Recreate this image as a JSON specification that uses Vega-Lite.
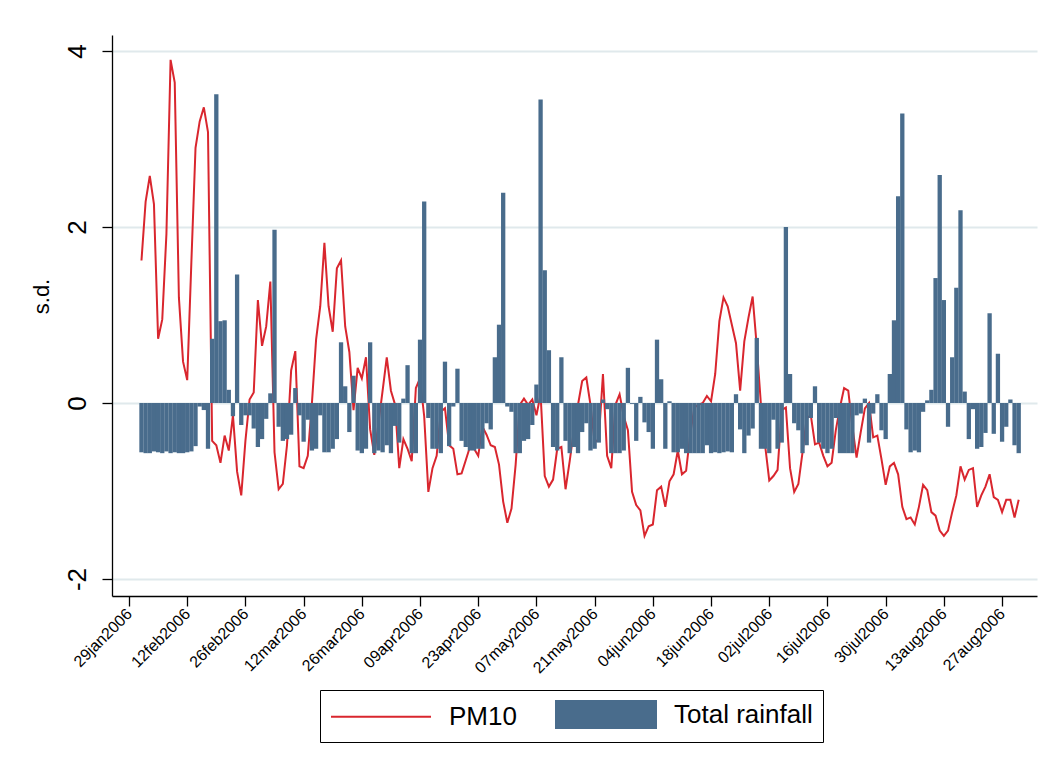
{
  "$schema": "https://vega.github.io/schema/vega-lite/v6.json",
  "width": 925,
  "height": 561,
  "autosize": {"type": "none"},
  "padding": {"left": 112, "top": 35, "right": 16, "bottom": 175},
  "background": "white",
  "config": {
    "view": {"stroke": null},
    "font": "Liberation Sans"
  },
  "data": {
    "values": [
      {"date": "2006-02-01", "pm10": 1.62, "rain": -0.56},
      {"date": "2006-02-02", "pm10": 2.29, "rain": -0.57},
      {"date": "2006-02-03", "pm10": 2.58, "rain": -0.57},
      {"date": "2006-02-04", "pm10": 2.26, "rain": -0.55},
      {"date": "2006-02-05", "pm10": 0.73, "rain": -0.56},
      {"date": "2006-02-06", "pm10": 0.95, "rain": -0.57},
      {"date": "2006-02-07", "pm10": 1.92, "rain": -0.55},
      {"date": "2006-02-08", "pm10": 3.90, "rain": -0.57},
      {"date": "2006-02-09", "pm10": 3.64, "rain": -0.56},
      {"date": "2006-02-10", "pm10": 1.20, "rain": -0.57},
      {"date": "2006-02-11", "pm10": 0.47, "rain": -0.57},
      {"date": "2006-02-12", "pm10": 0.26, "rain": -0.56},
      {"date": "2006-02-13", "pm10": 1.60, "rain": -0.55},
      {"date": "2006-02-14", "pm10": 2.90, "rain": -0.49},
      {"date": "2006-02-15", "pm10": 3.20, "rain": -0.04},
      {"date": "2006-02-16", "pm10": 3.36, "rain": -0.08},
      {"date": "2006-02-17", "pm10": 3.08, "rain": -0.52},
      {"date": "2006-02-18", "pm10": -0.43, "rain": 0.73},
      {"date": "2006-02-19", "pm10": -0.48, "rain": 3.51},
      {"date": "2006-02-20", "pm10": -0.68, "rain": 0.93},
      {"date": "2006-02-21", "pm10": -0.37, "rain": 0.94},
      {"date": "2006-02-22", "pm10": -0.54, "rain": 0.15},
      {"date": "2006-02-23", "pm10": -0.14, "rain": -0.15},
      {"date": "2006-02-24", "pm10": -0.78, "rain": 1.46},
      {"date": "2006-02-25", "pm10": -1.05, "rain": -0.25},
      {"date": "2006-02-26", "pm10": -0.43, "rain": -0.14},
      {"date": "2006-02-27", "pm10": 0.04, "rain": -0.14},
      {"date": "2006-02-28", "pm10": 0.12, "rain": -0.29},
      {"date": "2006-03-01", "pm10": 1.17, "rain": -0.50},
      {"date": "2006-03-02", "pm10": 0.65, "rain": -0.41},
      {"date": "2006-03-03", "pm10": 0.87, "rain": -0.18},
      {"date": "2006-03-04", "pm10": 1.38, "rain": 0.11},
      {"date": "2006-03-05", "pm10": -0.56, "rain": 1.97},
      {"date": "2006-03-06", "pm10": -0.98, "rain": -0.27},
      {"date": "2006-03-07", "pm10": -0.92, "rain": -0.43},
      {"date": "2006-03-08", "pm10": -0.48, "rain": -0.41},
      {"date": "2006-03-09", "pm10": 0.37, "rain": -0.36},
      {"date": "2006-03-10", "pm10": 0.59, "rain": 0.17},
      {"date": "2006-03-11", "pm10": -0.72, "rain": -0.14},
      {"date": "2006-03-12", "pm10": -0.74, "rain": -0.44},
      {"date": "2006-03-13", "pm10": -0.60, "rain": -0.19},
      {"date": "2006-03-14", "pm10": 0.00, "rain": -0.54},
      {"date": "2006-03-15", "pm10": 0.72, "rain": -0.52},
      {"date": "2006-03-16", "pm10": 1.10, "rain": -0.14},
      {"date": "2006-03-17", "pm10": 1.82, "rain": -0.56},
      {"date": "2006-03-18", "pm10": 1.10, "rain": -0.56},
      {"date": "2006-03-19", "pm10": 0.81, "rain": -0.52},
      {"date": "2006-03-20", "pm10": 1.53, "rain": -0.41},
      {"date": "2006-03-21", "pm10": 1.62, "rain": 0.69},
      {"date": "2006-03-22", "pm10": 0.87, "rain": 0.19},
      {"date": "2006-03-23", "pm10": 0.58, "rain": -0.33},
      {"date": "2006-03-24", "pm10": -0.08, "rain": 0.31},
      {"date": "2006-03-25", "pm10": 0.40, "rain": -0.54},
      {"date": "2006-03-26", "pm10": 0.28, "rain": -0.57},
      {"date": "2006-03-27", "pm10": 0.52, "rain": -0.52},
      {"date": "2006-03-28", "pm10": -0.30, "rain": 0.69},
      {"date": "2006-03-29", "pm10": -0.59, "rain": -0.57},
      {"date": "2006-03-30", "pm10": -0.23, "rain": -0.54},
      {"date": "2006-03-31", "pm10": 0.14, "rain": -0.56},
      {"date": "2006-04-01", "pm10": 0.52, "rain": -0.48},
      {"date": "2006-04-02", "pm10": 0.14, "rain": -0.57},
      {"date": "2006-04-03", "pm10": -0.02, "rain": -0.26},
      {"date": "2006-04-04", "pm10": -0.74, "rain": -0.45},
      {"date": "2006-04-05", "pm10": -0.41, "rain": 0.05},
      {"date": "2006-04-06", "pm10": -0.52, "rain": 0.43},
      {"date": "2006-04-07", "pm10": -0.66, "rain": -0.57},
      {"date": "2006-04-08", "pm10": 0.17, "rain": -0.57},
      {"date": "2006-04-09", "pm10": 0.28, "rain": 0.72},
      {"date": "2006-04-10", "pm10": -0.15, "rain": 2.29},
      {"date": "2006-04-11", "pm10": -1.01, "rain": -0.17},
      {"date": "2006-04-12", "pm10": -0.74, "rain": -0.52},
      {"date": "2006-04-13", "pm10": -0.60, "rain": -0.52},
      {"date": "2006-04-14", "pm10": -0.10, "rain": -0.57},
      {"date": "2006-04-15", "pm10": -0.06, "rain": 0.47},
      {"date": "2006-04-16", "pm10": -0.48, "rain": -0.49},
      {"date": "2006-04-17", "pm10": -0.52, "rain": -0.04},
      {"date": "2006-04-18", "pm10": -0.81, "rain": 0.39},
      {"date": "2006-04-19", "pm10": -0.80, "rain": -0.43},
      {"date": "2006-04-20", "pm10": -0.65, "rain": -0.50},
      {"date": "2006-04-21", "pm10": -0.50, "rain": -0.54},
      {"date": "2006-04-22", "pm10": -0.52, "rain": -0.54},
      {"date": "2006-04-23", "pm10": -0.60, "rain": -0.52},
      {"date": "2006-04-24", "pm10": -0.27, "rain": -0.52},
      {"date": "2006-04-25", "pm10": -0.36, "rain": -0.23},
      {"date": "2006-04-26", "pm10": -0.48, "rain": -0.30},
      {"date": "2006-04-27", "pm10": -0.50, "rain": 0.52},
      {"date": "2006-04-28", "pm10": -0.70, "rain": 0.89},
      {"date": "2006-04-29", "pm10": -1.12, "rain": 2.39},
      {"date": "2006-04-30", "pm10": -1.36, "rain": -0.04},
      {"date": "2006-05-01", "pm10": -1.20, "rain": -0.10},
      {"date": "2006-05-02", "pm10": -0.70, "rain": -0.57},
      {"date": "2006-05-03", "pm10": -0.02, "rain": -0.57},
      {"date": "2006-05-04", "pm10": 0.05, "rain": -0.43},
      {"date": "2006-05-05", "pm10": -0.02, "rain": -0.41},
      {"date": "2006-05-06", "pm10": 0.04, "rain": -0.25},
      {"date": "2006-05-07", "pm10": -0.14, "rain": 0.21},
      {"date": "2006-05-08", "pm10": 0.10, "rain": 3.45},
      {"date": "2006-05-09", "pm10": -0.83, "rain": 1.51},
      {"date": "2006-05-10", "pm10": -0.95, "rain": 0.60},
      {"date": "2006-05-11", "pm10": -0.87, "rain": -0.50},
      {"date": "2006-05-12", "pm10": -0.52, "rain": -0.54},
      {"date": "2006-05-13", "pm10": -0.50, "rain": 0.52},
      {"date": "2006-05-14", "pm10": -0.98, "rain": -0.43},
      {"date": "2006-05-15", "pm10": -0.66, "rain": -0.57},
      {"date": "2006-05-16", "pm10": -0.31, "rain": -0.50},
      {"date": "2006-05-17", "pm10": -0.02, "rain": -0.57},
      {"date": "2006-05-18", "pm10": 0.25, "rain": -0.33},
      {"date": "2006-05-19", "pm10": 0.29, "rain": -0.23},
      {"date": "2006-05-20", "pm10": -0.02, "rain": -0.54},
      {"date": "2006-05-21", "pm10": -0.45, "rain": -0.52},
      {"date": "2006-05-22", "pm10": -0.41, "rain": -0.45},
      {"date": "2006-05-23", "pm10": 0.33, "rain": 0.04},
      {"date": "2006-05-24", "pm10": -0.60, "rain": -0.07},
      {"date": "2006-05-25", "pm10": -0.74, "rain": -0.57},
      {"date": "2006-05-26", "pm10": -0.02, "rain": -0.57},
      {"date": "2006-05-27", "pm10": 0.10, "rain": -0.57},
      {"date": "2006-05-28", "pm10": -0.15, "rain": -0.54},
      {"date": "2006-05-29", "pm10": -0.31, "rain": 0.40},
      {"date": "2006-05-30", "pm10": -1.01, "rain": -0.01},
      {"date": "2006-05-31", "pm10": -1.16, "rain": -0.43},
      {"date": "2006-06-01", "pm10": -1.22, "rain": 0.07},
      {"date": "2006-06-02", "pm10": -1.51, "rain": -0.22},
      {"date": "2006-06-03", "pm10": -1.40, "rain": -0.33},
      {"date": "2006-06-04", "pm10": -1.38, "rain": -0.52},
      {"date": "2006-06-05", "pm10": -0.99, "rain": 0.72},
      {"date": "2006-06-06", "pm10": -0.95, "rain": 0.27},
      {"date": "2006-06-07", "pm10": -1.18, "rain": -0.52},
      {"date": "2006-06-08", "pm10": -0.89, "rain": 0.02},
      {"date": "2006-06-09", "pm10": -0.81, "rain": -0.56},
      {"date": "2006-06-10", "pm10": -0.54, "rain": -0.56},
      {"date": "2006-06-11", "pm10": -0.81, "rain": -0.52},
      {"date": "2006-06-12", "pm10": -0.77, "rain": -0.57},
      {"date": "2006-06-13", "pm10": -0.35, "rain": -0.57},
      {"date": "2006-06-14", "pm10": -0.05, "rain": -0.57},
      {"date": "2006-06-15", "pm10": -0.02, "rain": -0.57},
      {"date": "2006-06-16", "pm10": 0.00, "rain": -0.57},
      {"date": "2006-06-17", "pm10": 0.08, "rain": -0.48},
      {"date": "2006-06-18", "pm10": 0.02, "rain": -0.57},
      {"date": "2006-06-19", "pm10": 0.33, "rain": -0.56},
      {"date": "2006-06-20", "pm10": 0.93, "rain": -0.57},
      {"date": "2006-06-21", "pm10": 1.20, "rain": -0.56},
      {"date": "2006-06-22", "pm10": 1.10, "rain": -0.55},
      {"date": "2006-06-23", "pm10": 0.89, "rain": -0.56},
      {"date": "2006-06-24", "pm10": 0.68, "rain": 0.10},
      {"date": "2006-06-25", "pm10": 0.14, "rain": -0.30},
      {"date": "2006-06-26", "pm10": 0.70, "rain": -0.57},
      {"date": "2006-06-27", "pm10": 0.97, "rain": -0.37},
      {"date": "2006-06-28", "pm10": 1.21, "rain": -0.29},
      {"date": "2006-06-29", "pm10": 0.64, "rain": 0.74},
      {"date": "2006-06-30", "pm10": -0.02, "rain": -0.52},
      {"date": "2006-07-01", "pm10": -0.48, "rain": -0.52},
      {"date": "2006-07-02", "pm10": -0.88, "rain": -0.57},
      {"date": "2006-07-03", "pm10": -0.83, "rain": -0.19},
      {"date": "2006-07-04", "pm10": -0.76, "rain": -0.52},
      {"date": "2006-07-05", "pm10": -0.08, "rain": -0.45},
      {"date": "2006-07-06", "pm10": -0.05, "rain": 2.00},
      {"date": "2006-07-07", "pm10": -0.74, "rain": 0.33},
      {"date": "2006-07-08", "pm10": -1.01, "rain": -0.23},
      {"date": "2006-07-09", "pm10": -0.92, "rain": -0.31},
      {"date": "2006-07-10", "pm10": -0.56, "rain": -0.57},
      {"date": "2006-07-11", "pm10": -0.17, "rain": -0.48},
      {"date": "2006-07-12", "pm10": -0.14, "rain": -0.17},
      {"date": "2006-07-13", "pm10": -0.47, "rain": 0.19},
      {"date": "2006-07-14", "pm10": -0.45, "rain": -0.45},
      {"date": "2006-07-15", "pm10": -0.60, "rain": -0.52},
      {"date": "2006-07-16", "pm10": -0.72, "rain": -0.57},
      {"date": "2006-07-17", "pm10": -0.68, "rain": -0.52},
      {"date": "2006-07-18", "pm10": -0.31, "rain": -0.17},
      {"date": "2006-07-19", "pm10": -0.05, "rain": -0.57},
      {"date": "2006-07-20", "pm10": 0.17, "rain": -0.57},
      {"date": "2006-07-21", "pm10": 0.14, "rain": -0.57},
      {"date": "2006-07-22", "pm10": -0.27, "rain": -0.57},
      {"date": "2006-07-23", "pm10": -0.62, "rain": -0.14},
      {"date": "2006-07-24", "pm10": -0.33, "rain": -0.12},
      {"date": "2006-07-25", "pm10": -0.06, "rain": 0.05},
      {"date": "2006-07-26", "pm10": 0.00, "rain": -0.45},
      {"date": "2006-07-27", "pm10": -0.39, "rain": -0.12},
      {"date": "2006-07-28", "pm10": -0.37, "rain": 0.10},
      {"date": "2006-07-29", "pm10": -0.64, "rain": -0.31},
      {"date": "2006-07-30", "pm10": -0.93, "rain": -0.41},
      {"date": "2006-07-31", "pm10": -0.72, "rain": 0.33},
      {"date": "2006-08-01", "pm10": -0.68, "rain": 0.94},
      {"date": "2006-08-02", "pm10": -0.81, "rain": 2.35},
      {"date": "2006-08-03", "pm10": -1.18, "rain": 3.29},
      {"date": "2006-08-04", "pm10": -1.32, "rain": -0.30},
      {"date": "2006-08-05", "pm10": -1.30, "rain": -0.56},
      {"date": "2006-08-06", "pm10": -1.38, "rain": -0.54},
      {"date": "2006-08-07", "pm10": -1.18, "rain": -0.56},
      {"date": "2006-08-08", "pm10": -0.93, "rain": -0.10},
      {"date": "2006-08-09", "pm10": -0.99, "rain": 0.03},
      {"date": "2006-08-10", "pm10": -1.24, "rain": 0.15},
      {"date": "2006-08-11", "pm10": -1.28, "rain": 1.42},
      {"date": "2006-08-12", "pm10": -1.45, "rain": 2.59},
      {"date": "2006-08-13", "pm10": -1.51, "rain": 1.17},
      {"date": "2006-08-14", "pm10": -1.45, "rain": -0.27},
      {"date": "2006-08-15", "pm10": -1.24, "rain": 0.52},
      {"date": "2006-08-16", "pm10": -1.05, "rain": 1.31},
      {"date": "2006-08-17", "pm10": -0.72, "rain": 2.19},
      {"date": "2006-08-18", "pm10": -0.87, "rain": 0.13},
      {"date": "2006-08-19", "pm10": -0.76, "rain": -0.41},
      {"date": "2006-08-20", "pm10": -0.74, "rain": -0.07},
      {"date": "2006-08-21", "pm10": -1.18, "rain": -0.52},
      {"date": "2006-08-22", "pm10": -1.05, "rain": -0.50},
      {"date": "2006-08-23", "pm10": -0.95, "rain": -0.34},
      {"date": "2006-08-24", "pm10": -0.81, "rain": 1.02},
      {"date": "2006-08-25", "pm10": -1.07, "rain": -0.35},
      {"date": "2006-08-26", "pm10": -1.10, "rain": 0.56},
      {"date": "2006-08-27", "pm10": -1.24, "rain": -0.44},
      {"date": "2006-08-28", "pm10": -1.10, "rain": -0.27},
      {"date": "2006-08-29", "pm10": -1.10, "rain": 0.04},
      {"date": "2006-08-30", "pm10": -1.30, "rain": -0.48},
      {"date": "2006-08-31", "pm10": -1.10, "rain": -0.57}
    ]
  },
  "encoding": {
    "x": {
      "field": "date",
      "type": "temporal",
      "scale": {"type": "utc", "domain": [1138139424000, 1157362560000], "nice": false, "padding": 0},
      "axis": {
        "title": null,
        "values": [1138492800000, 1139702400000, 1140912000000, 1142121600000, 1143331200000, 1144540800000, 1145750400000, 1146960000000, 1148169600000, 1149379200000, 1150588800000, 1151798400000, 1153008000000, 1154217600000, 1155427200000, 1156636800000],
        "labelExpr": "lower(utcFormat(datum.value, '%d%b%Y'))",
        "labelAngle": -45,
        "labelAlign": "right",
        "labelBaseline": "middle",
        "labelFontSize": 16,
        "labelColor": "#000000",
        "labelPadding": 5,
        "labelOverlap": false,
        "labelFlush": false,
        "tickSize": 10,
        "tickColor": "#000000",
        "tickWidth": 1.3,
        "domainColor": "#000000",
        "domainWidth": 1.3,
        "grid": false
      }
    }
  },
  "layer": [
    {
      "mark": {"type": "line", "strokeWidth": 2, "clip": true},
      "encoding": {
        "y": {
          "field": "pm10",
          "type": "quantitative",
          "scale": {"domain": [-2.193, 4.182], "nice": false},
          "axis": {
            "title": "s.d.",
            "titleFontSize": 22,
            "titleFontWeight": "normal",
            "titleColor": "#000000",
            "titlePadding": 11,
            "titleY": 261,
            "values": [-2, 0, 2, 4],
            "labelExpr": "'' + datum.value",
            "labelAngle": -90,
            "labelFontSize": 26,
            "labelColor": "#000000",
            "labelPadding": 12,
            "tickSize": 10,
            "tickColor": "#000000",
            "tickWidth": 1.3,
            "domainColor": "#000000",
            "domainWidth": 1.3,
            "grid": true,
            "gridColor": "#e0e9ec",
            "gridWidth": 1.8
          }
        },
        "color": {
          "datum": "PM10",
          "type": "nominal",
          "scale": {"domain": ["PM10", "Total rainfall"], "range": ["#d9262e", "#496c8c"]},
          "legend": {
            "title": null,
            "orient": "none",
            "legendX": 208,
            "legendY": 655,
            "direction": "horizontal",
            "strokeColor": "#000000",
            "fillColor": "#ffffff",
            "padding": 10,
            "labelFontSize": 26,
            "labelColor": "#000000",
            "labelOffset": 90,
            "columnPadding": 35,
            "symbolSize": 729,
            "symbolType": "M-1,-1H6.407V1H-1Z",
            "encode": {
              "symbols": {
                "update": {
                  "shape": {"signal": "datum.value === 'PM10' ? 'M-1,0H6.407' : 'M-1,-1H6.407V1H-1Z'"},
                  "fill": {"signal": "datum.value === 'PM10' ? 'transparent' : '#496c8c'"},
                  "stroke": {"signal": "datum.value === 'PM10' ? '#d9262e' : 'transparent'"},
                  "strokeWidth": {"value": 2},
                  "opacity": {"value": 1}
                }
              }
            }
          }
        }
      }
    },
    {
      "mark": {"type": "bar", "width": 4.3, "clip": true},
      "encoding": {
        "y": {"field": "rain", "type": "quantitative"},
        "y2": {"datum": 0},
        "color": {"datum": "Total rainfall", "type": "nominal"}
      }
    }
  ]
}
